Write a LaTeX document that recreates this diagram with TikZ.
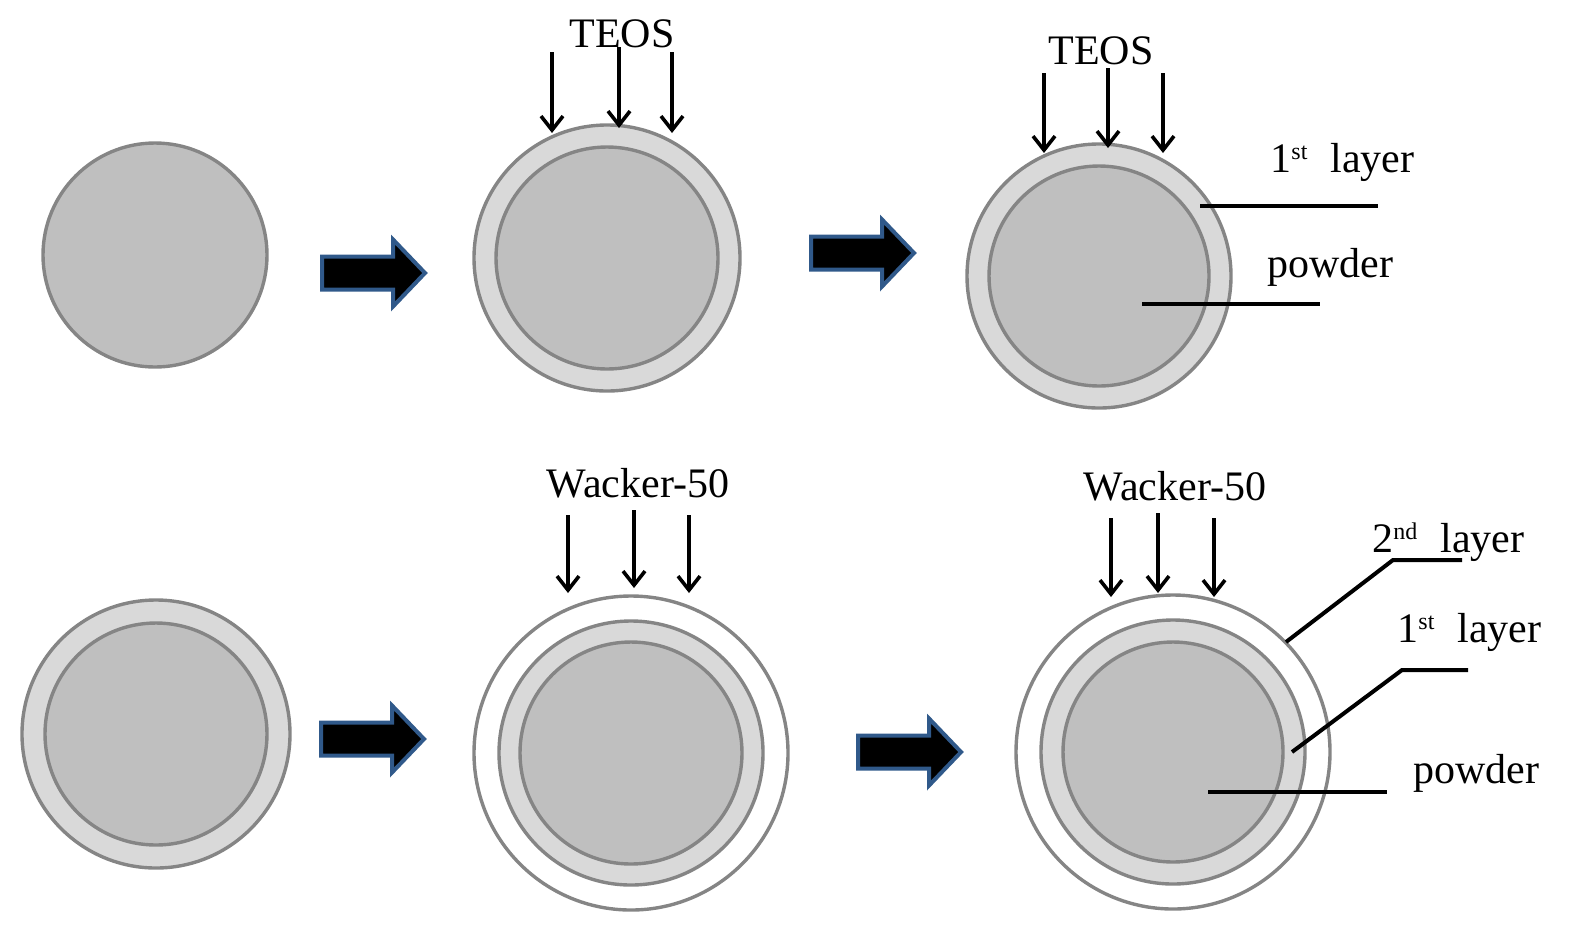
\documentclass[tikz,border=0pt]{standalone}
\usepackage{fontspec}
\setmainfont{Liberation Serif}
\usetikzlibrary{arrows.meta}
\definecolor{edge}{HTML}{858585}
\definecolor{corefill}{HTML}{BFBFBF}
\definecolor{shellfill}{HTML}{D9D9D9}
\definecolor{arrowedge}{HTML}{30598A}
\newcommand{\supr}[1]{\raisebox{0.3em}{\fontsize{12}{12}\selectfont #1}}
\begin{document}
\begin{tikzpicture}[x=0.5pt,y=-0.5pt,
  ball/.style={circle, draw=edge, line width=1.7pt, inner sep=0pt, outer sep=0pt},
  core/.style={ball, fill=corefill, minimum size=#1},
  shell/.style={ball, fill=shellfill, minimum size=#1},
  coat/.style={ball, fill=white, minimum size=#1},
  lbl/.style={font=\fontsize{21}{25}\selectfont, inner sep=0pt},
  feed/.style={-{Straight Barb[length=7pt,width=11pt]}, line width=1.8pt},
  leader/.style={line width=2pt},
  blockarrow/.pic={\draw[draw=arrowedge, fill=black, line width=2pt, line join=miter]
     (0,-16.5) -- (71,-16.5) -- (71,-33.5) -- (103,0) -- (71,33.5) -- (71,16.5) -- (0,16.5) -- cycle;}
]
\useasboundingbox (0,0) rectangle (1582,928);

% ---- top row ----
\node[core=112pt] (a1) at (155,255) {};
\pic at (322,273) {blockarrow};

\node[shell=133pt] (b1s) at (607,258) {};
\node[core=111pt] (b1c) at (607,258) {};
\pic at (811,253) {blockarrow};

\node[shell=132pt] (c1s) at (1099,276) {};
\node[core=110pt] (c1c) at (1099,276) {};

% TEOS middle
\node[lbl, anchor=base] (teos1) at (622,47) {TEOS};
\coordinate (t1a) at (552,52);  \coordinate (t1ae) at (552,133);
\coordinate (t1b) at (619,47);  \coordinate (t1be) at (619,128);
\coordinate (t1c) at (672,52);  \coordinate (t1ce) at (672,133);
\draw[feed] (t1a) -- (t1ae);
\draw[feed] (t1b) -- (t1be);
\draw[feed] (t1c) -- (t1ce);

% TEOS right
\node[lbl, anchor=base] (teos2) at (1101,64) {TEOS};
\coordinate (t2a) at (1044,73);  \coordinate (t2ae) at (1044,153);
\coordinate (t2b) at (1108,68);  \coordinate (t2be) at (1108,148);
\coordinate (t2c) at (1163,73);  \coordinate (t2ce) at (1163,153);
\draw[feed] (t2a) -- (t2ae);
\draw[feed] (t2b) -- (t2be);
\draw[feed] (t2c) -- (t2ce);

\node[lbl, anchor=base west] (l1top) at (1270,172) {1\supr{st}\hspace{0.55em}layer};
\node[lbl, anchor=base west] (pwtop) at (1267,277) {powder};
\coordinate (l1s) at (1200,206); \coordinate (l1e) at (1378,206);
\coordinate (p1s) at (1142,304); \coordinate (p1e) at (1320,304);
\draw[leader] (l1s) -- (l1e);
\draw[leader] (p1s) -- (p1e);

% ---- bottom row ----
\node[shell=134pt] (a2s) at (156,734) {};
\node[core=111pt] (a2c) at (156,734) {};
\pic at (321,739) {blockarrow};

\node[coat=157pt] (b2o) at (631,753) {};
\node[shell=132pt] (b2s) at (631,753) {};
\node[core=111pt] (b2c) at (631,753) {};
\pic at (858,752) {blockarrow};

\node[coat=157pt] (c2o) at (1173,752) {};
\node[shell=132pt] (c2s) at (1173,752) {};
\node[core=110pt] (c2c) at (1173,752) {};

% Wacker middle
\node[lbl, anchor=base] (w1) at (638,497) {Wacker-50};
\coordinate (w1a) at (568,515);  \coordinate (w1ae) at (568,593);
\coordinate (w1b) at (634,510);  \coordinate (w1be) at (634,588);
\coordinate (w1c) at (689,515);  \coordinate (w1ce) at (689,593);
\draw[feed] (w1a) -- (w1ae);
\draw[feed] (w1b) -- (w1be);
\draw[feed] (w1c) -- (w1ce);

% Wacker right
\node[lbl, anchor=base] (w2) at (1175,500) {Wacker-50};
\coordinate (w2a) at (1111,518);  \coordinate (w2ae) at (1111,597);
\coordinate (w2b) at (1158,513);  \coordinate (w2be) at (1158,593);
\coordinate (w2c) at (1214,518);  \coordinate (w2ce) at (1214,597);
\draw[feed] (w2a) -- (w2ae);
\draw[feed] (w2b) -- (w2be);
\draw[feed] (w2c) -- (w2ce);

\node[lbl, anchor=base west] (l2b) at (1372,552) {2\supr{nd}\hspace{0.55em}layer};
\node[lbl, anchor=base west] (l1b) at (1397,642) {1\supr{st}\hspace{0.55em}layer};
\node[lbl, anchor=base west] (pwb) at (1413,783) {powder};
\coordinate (q2s) at (1286,642); \coordinate (q2m) at (1393,560); \coordinate (q2e) at (1462,560);
\coordinate (q1s) at (1292,752); \coordinate (q1m) at (1402,670); \coordinate (q1e) at (1468,670);
\coordinate (qps) at (1208,792); \coordinate (qpe) at (1387,792);
\draw[leader] (q2s) -- (q2m) -- (q2e);
\draw[leader] (q1s) -- (q1m) -- (q1e);
\draw[leader] (qps) -- (qpe);
\end{tikzpicture}
\end{document}
